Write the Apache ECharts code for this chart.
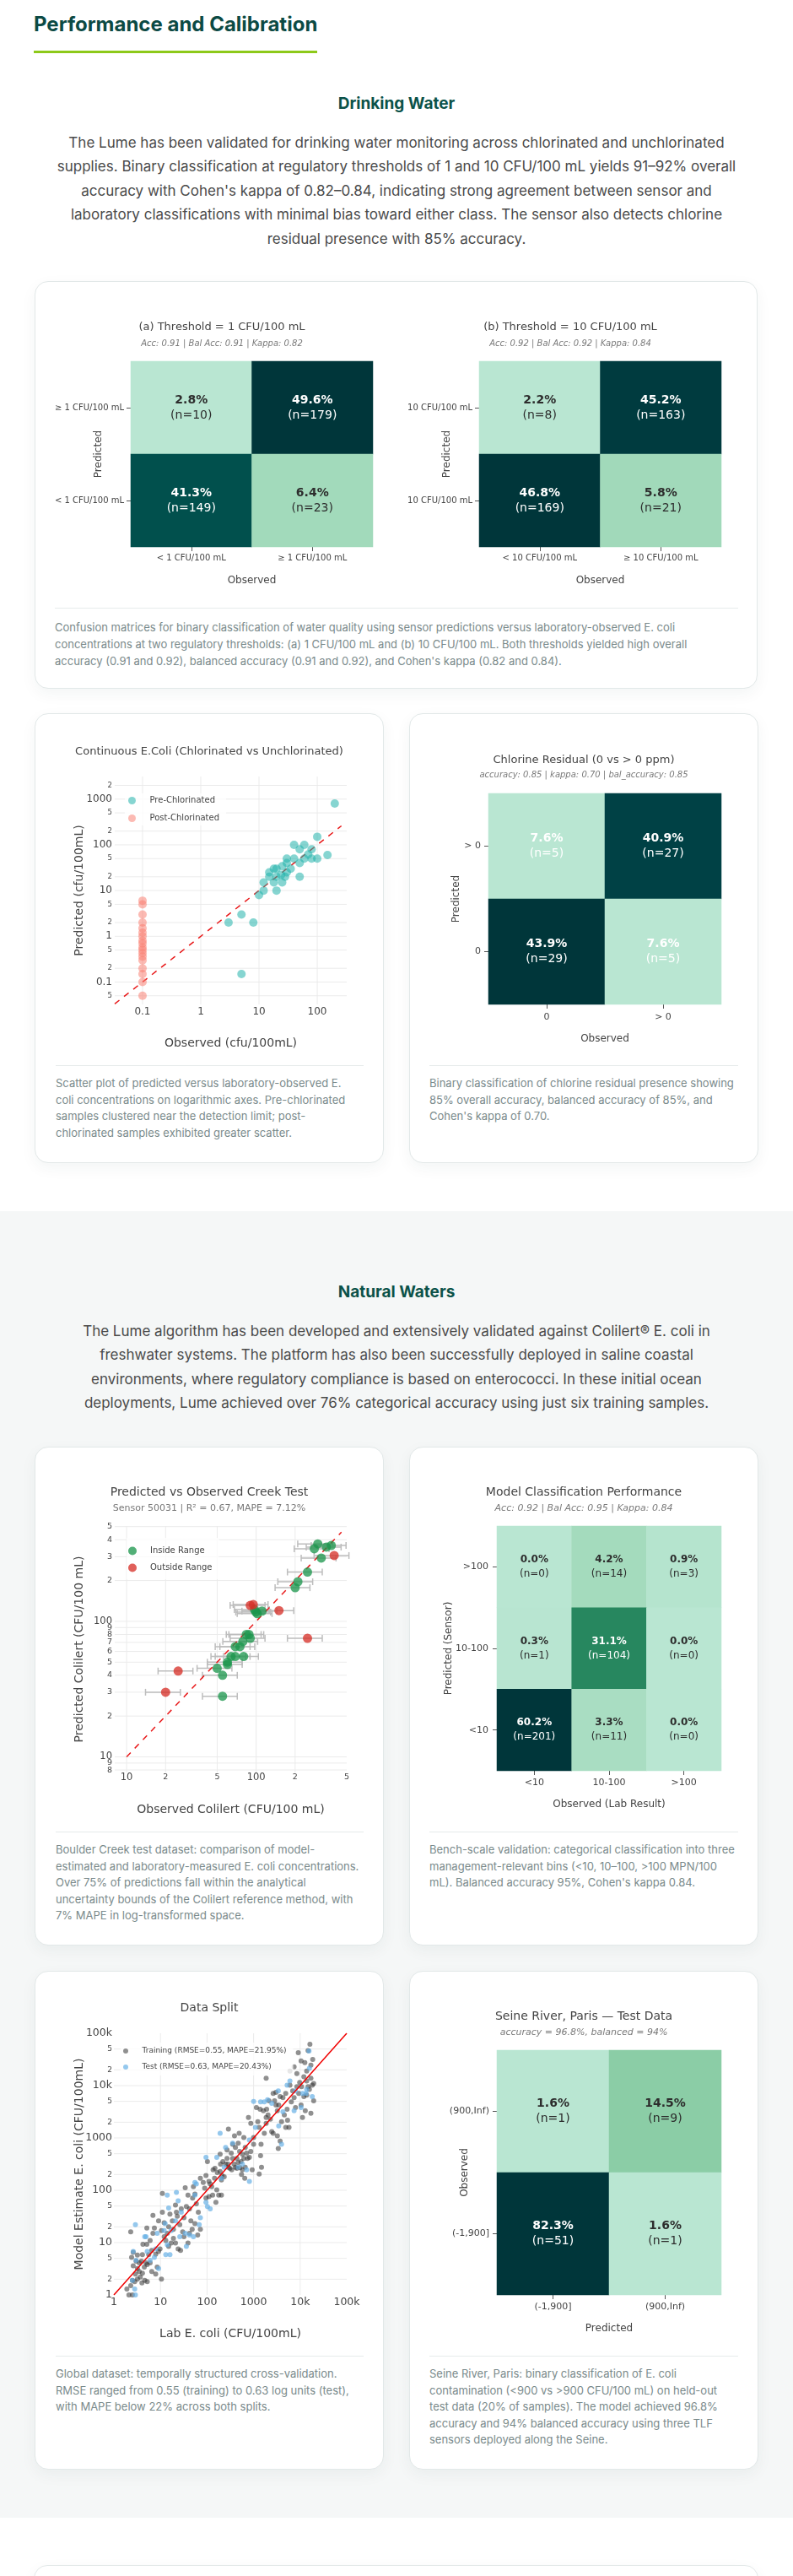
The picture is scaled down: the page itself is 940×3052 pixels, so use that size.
<!DOCTYPE html>
<html><head><meta charset="utf-8">
<script src="https://cdn.jsdelivr.net/npm/echarts@6/dist/echarts.min.js"></script>
<style>
html,body{margin:0;padding:0;background:#fff;}
#page{position:relative;width:940px;height:3052px;overflow:hidden;font-family:Inter,"Noto Sans",sans-serif;}
.abs{position:absolute;}
.h1{left:40px;top:14px;font-size:24px;font-weight:700;line-height:30px;color:#0c4a44;white-space:nowrap;}
.bar{left:40px;top:60px;width:336px;height:3px;background:#8dc919;}
.h3{left:0;width:940px;text-align:center;font-size:19px;font-weight:700;line-height:24px;color:#0b5249;}
.para{left:0;width:940px;text-align:center;font-size:17px;line-height:28.5px;color:#4a4a4a;white-space:nowrap;}
.card{background:#fff;border:1px solid #e2e8e8;border-radius:16px;box-shadow:0 6px 18px rgba(20,50,50,0.05);box-sizing:border-box;}
.sep{height:1px;background:#e6ebeb;}
.cap{font-size:13px;line-height:19.5px;color:#7a8a8b;white-space:nowrap;}
.chart{position:absolute;}
</style></head><body><div id="page">
<div class="abs" style="left:0;top:1435px;width:940px;height:1548px;background:#f5f7f7"></div>

<div class="abs h1">Performance and Calibration</div>
<div class="abs bar"></div>
<div class="abs h3" style="top:111px">Drinking Water</div>
<div class="abs para" style="top:154.75px">The Lume has been validated for drinking water monitoring across chlorinated and unchlorinated<br>supplies. Binary classification at regulatory thresholds of 1 and 10 CFU/100 mL yields 91–92% overall<br>accuracy with Cohen's kappa of 0.82–0.84, indicating strong agreement between sensor and<br>laboratory classifications with minimal bias toward either class. The sensor also detects chlorine<br>residual presence with 85% accuracy.</div>

<div class="abs card" style="left:41px;top:333px;width:857px;height:483px"></div>
<div class="abs sep" style="left:65px;top:720px;width:810px"></div>
<div class="abs cap" style="left:65px;top:733px;line-height:20px">Confusion matrices for binary classification of water quality using sensor predictions versus laboratory-observed E. coli<br>concentrations at two regulatory thresholds: (a) 1 CFU/100 mL and (b) 10 CFU/100 mL. Both thresholds yielded high overall<br>accuracy (0.91 and 0.92), balanced accuracy (0.91 and 0.92), and Cohen's kappa (0.82 and 0.84).</div>

<div class="abs card" style="left:41px;top:845px;width:414px;height:533px"></div>
<div class="abs card" style="left:485px;top:845px;width:414px;height:533px"></div>
<div class="abs sep" style="left:66px;top:1262px;width:365px"></div>
<div class="abs sep" style="left:509px;top:1262px;width:366px"></div>
<div class="abs cap" style="left:66px;top:1274px">Scatter plot of predicted versus laboratory-observed E.<br>coli concentrations on logarithmic axes. Pre-chlorinated<br>samples clustered near the detection limit; post-<br>chlorinated samples exhibited greater scatter.</div>
<div class="abs cap" style="left:509px;top:1274px">Binary classification of chlorine residual presence showing<br>85% overall accuracy, balanced accuracy of 85%, and<br>Cohen's kappa of 0.70.</div>

<div class="abs h3" style="top:1519px">Natural Waters</div>
<div class="abs para" style="top:1562.75px">The Lume algorithm has been developed and extensively validated against Colilert® E. coli in<br>freshwater systems. The platform has also been successfully deployed in saline coastal<br>environments, where regulatory compliance is based on enterococci. In these initial ocean<br>deployments, Lume achieved over 76% categorical accuracy using just six training samples.</div>

<div class="abs card" style="left:41px;top:1714px;width:414px;height:591px"></div>
<div class="abs card" style="left:485px;top:1714px;width:414px;height:591px"></div>
<div class="abs sep" style="left:66px;top:2170px;width:365px"></div>
<div class="abs sep" style="left:509px;top:2170px;width:366px"></div>
<div class="abs cap" style="left:66px;top:2182px">Boulder Creek test dataset: comparison of model-<br>estimated and laboratory-measured E. coli concentrations.<br>Over 75% of predictions fall within the analytical<br>uncertainty bounds of the Colilert reference method, with<br>7% MAPE in log-transformed space.</div>
<div class="abs cap" style="left:509px;top:2182px">Bench-scale validation: categorical classification into three<br>management-relevant bins (&lt;10, 10–100, &gt;100 MPN/100<br>mL). Balanced accuracy 95%, Cohen's kappa 0.84.</div>

<div class="abs card" style="left:41px;top:2335px;width:414px;height:591px"></div>
<div class="abs card" style="left:485px;top:2335px;width:414px;height:591px"></div>
<div class="abs sep" style="left:66px;top:2791px;width:365px"></div>
<div class="abs sep" style="left:509px;top:2791px;width:366px"></div>
<div class="abs cap" style="left:66px;top:2803px">Global dataset: temporally structured cross-validation.<br>RMSE ranged from 0.55 (training) to 0.63 log units (test),<br>with MAPE below 22% across both splits.</div>
<div class="abs cap" style="left:509px;top:2803px">Seine River, Paris: binary classification of E. coli<br>contamination (&lt;900 vs &gt;900 CFU/100 mL) on held-out<br>test data (20% of samples). The model achieved 96.8%<br>accuracy and 94% balanced accuracy using three TLF<br>sensors deployed along the Seine.</div>

<div class="abs card" style="left:40px;top:3039px;width:859px;height:80px"></div>

<div id="cmA" class="chart" style="left:42px;top:334px;width:442px;height:380px"></div>
<div id="cmB" class="chart" style="left:484px;top:334px;width:384px;height:380px"></div>
<div id="drink" class="chart" style="left:42px;top:846px;width:412px;height:414px"></div>
<div id="chlor" class="chart" style="left:486px;top:846px;width:412px;height:414px"></div>
<div id="creek" class="chart" style="left:42px;top:1715px;width:412px;height:454px"></div>
<div id="model" class="chart" style="left:486px;top:1715px;width:412px;height:454px"></div>
<div id="split" class="chart" style="left:42px;top:2336px;width:412px;height:454px"></div>
<div id="seine" class="chart" style="left:486px;top:2336px;width:412px;height:454px"></div>
</div>
<script>
// ================= DATA =================
// Confusion matrices (rows listed top -> bottom of the picture)
const cmXCatsA = ['< 1 CFU/100 mL', '≥ 1 CFU/100 mL'];
const cmYCatsA = ['< 1 CFU/100 mL', '≥ 1 CFU/100 mL'];
const cmPctA = [[2.8, 49.6], [41.3, 6.4]];
const cmNA = [[10, 179], [149, 23]];
const cmXCatsB = ['< 10 CFU/100 mL', '≥ 10 CFU/100 mL'];
const cmYCatsB = ['10 CFU/100 mL', '10 CFU/100 mL'];
const cmPctB = [[2.2, 45.2], [46.8, 5.8]];
const cmNB = [[8, 163], [169, 21]];
const chlorCats = ['0', '> 0'];
const chlorPct = [[7.6, 40.9], [43.9, 7.6]];
const chlorN = [[5, 27], [29, 5]];
const modelCats = ['<10', '10-100', '>100'];
const modelPct = [[0.0, 4.2, 0.9], [0.3, 31.1, 0.0], [60.2, 3.3, 0.0]];
const modelN = [[0, 14, 3], [1, 104, 0], [201, 11, 0]];
const seineCats = ['(-1,900]', '(900,Inf)'];
const seinePct = [[1.6, 14.5], [82.3, 1.6]];
const seineN = [[1, 9], [51, 1]];

// Continuous E. coli (observed, predicted)
const preChlor = [[200,800],[100,150],[150,60],[40,100],[60,100],[50,80],[80,80],[70,62],[60,50],[80,50],[100,50],[40,50],[30,50],[50,40],[30,40],[25,34],[35,30],[18,30],[20,30],[15,25],[15,20],[20,20],[24,22],[28,20],[30,25],[50,20],[12,15],[18,15],[25,15],[12,10],[20,10],[10,8],[3,2],[5,3],[8,2],[5,0.15]];
const postChlor = [[0.1,6],[0.1,5],[0.1,3],[0.1,2],[0.1,1.5],[0.1,1.2],[0.1,1],[0.1,0.8],[0.1,0.7],[0.1,0.57],[0.1,0.5],[0.1,0.43],[0.1,0.36],[0.1,0.3],[0.1,0.2],[0.1,0.15],[0.1,0.1],[0.1,0.05]];
const drinkRangeX = [0.0333, 321];
const drinkRangeY = [0.0324, 3120];
const drinkIdentity = [0.0333, 260];
const drinkTicksX = [0.1, 1, 10, 100];
const drinkLabelsX = ['0.1', '1', '10', '100'];
const drinkTicksY = [0.05, 0.1, 0.2, 0.5, 1, 2, 5, 10, 20, 50, 100, 200, 500, 1000, 2000];
const drinkLabelsY = ['5', '0.1', '2', '5', '1', '2', '5', '10', '2', '5', '100', '2', '5', '1000', '2'];
const drinkMajorY = [0.1, 1, 10, 100, 1000];

// Creek test (observed, predicted)
const creekInside = [[299,373],[281,343],[348,353],[380,363],[318,293],[249,231],[210,196],[200,177],[97,122],[102,114],[111,119],[99.5,117],[88,80],[84,80],[90,75],[79,71],[75,65],[69,65],[80,55],[69,55],[64,55],[60,50],[60,48],[50,45],[55,40],[55,28]];
const creekOutside = [[400,306],[95,133],[90,131],[150,120],[249,75],[25,43],[20,30]];
const colilertUncertainty = 0.30;
const creekRangeX = [8.1, 500];
const creekRangeY = [7.67, 505];
const creekIdentity = [10, 455];
const creekTicksX = [10, 20, 50, 100, 200, 500];
const creekLabelsX = ['10', '2', '5', '100', '2', '5'];
const creekTicksY = [8, 9, 10, 20, 30, 40, 50, 60, 70, 80, 90, 100, 200, 300, 400, 500];
const creekLabelsY = ['8', '9', '10', '2', '3', '4', '5', '6', '7', '8', '9', '100', '2', '3', '4', '5'];
const creekMajor = [10, 100];

// Data split (lab, model)
const splitTrain = [[2.3,16],[2.6,6.5],[2.4,5.2],[2.6,3.6],[3.0,4.4],[3.2,5.8],[3.5,2.8],[2.9,2.5],[2.5,1.9],[2.3,1.5],[2.1,1.0],[2.5,1.0],[2.8,1.8],[3.2,2.0],[3.7,2.2],[4.0,1.7],[4.6,1.9],[5.2,1.8],[4.1,2.6],[4.5,3.4],[4.9,4.1],[3.9,4.4],[4.2,9.3],[5.1,9.3],[5.1,19],[6.9,15],[6.0,11],[6.5,7.1],[6.9,33],[7.4,19],[7.9,6.0],[9.1,6.8],[8.5,3.4],[7.9,2.5],[10.5,2.0],[6.5,2.8],[5.6,5.9],[3.5,4.1],[4.1,5.9],[5.2,3.8],[9.8,7.6],[6.0,4.1],[1.9,1.3],[3.2,3.2],
[11,87],[11,38],[12,24],[12,13],[10.5,17],[14,15],[15,20],[16,35],[18,26],[21,52],[22,38],[19,12],[21,9.8],[24,7.6],[26,22],[27,7.1],[32,13],[32,30],[34,112],[39,81],[36,49],[42,44],[45,26],[48,18],[49,71],[51,117],[55,85],[59,55],[65,38],[72,170],[83,141],[89,110],[95,191],[95,71],[110,76],[102,355],[110,148],[117,132],[126,117],[145,170],[148,263],[162,102],[178,81],[204,81],[155,59],[17,9.8],[15,8.5],[19,18],[23,32],[28,44],[30,16],[39,9.8],[42,15],[55,23],[72,18],[63,14],[132,81],[9.1,26],[13,11],
[166,219],[191,229],[204,158],[234,182],[251,316],[219,355],[269,407],[288,275],[309,263],[331,513],[355,407],[380,316],[407,661],[437,407],[468,794],[490,1230],[501,550],[537,355],[575,490],[617,407],[661,661],[708,513],[741,407],[813,427],[933,245],[1000,759],[389,1096],[468,339],[513,269],[575,245],[550,200],[646,170],[288,1480],[191,490],[355,759],[617,1020],[437,263],[339,245],[282,316],[195,316],[209,191],[135,245],[871,550],[269,589],[407,275],[661,275],
[776,2455],[871,1905],[1000,1023],[1148,3800],[1230,2040],[1318,1585],[1380,3550],[1413,457],[1445,759],[1622,3311],[1698,1230],[1862,1905],[1905,3550],[2042,2754],[2138,5129],[2291,2291],[2455,1318],[2630,7079],[2818,5129],[3020,7413],[3236,3311],[3467,4266],[3715,6166],[3981,2040],[4266,5888],[4571,2754],[4898,7079],[5248,3550],[5370,2188],[5754,1585],[6026,10200],[6457,4898],[6918,7943],[7413,5888],[7943,3800],[8511,9550],[9333,7079],[9772,11480],[10470,4266],[11220,2455],[12020,6166],[12880,3311],[3388,631],[3715,871],[2630,1230],[3236,1096],[4898,1585],[1318,204],[1479,275],[1862,2455],[3020,4266],
[13800,12300],[14800,9550],[16200,61700],[17000,13800],[18200,10200],[18600,31600],[19500,5129],[19500,11000],[17000,2950],[13800,19000],[15800,8500],[17000,24500],[12000,14800],[14800,46800],[10700,9550],[8500,17000],[13800,6600],
[1862,13800],[6026,19000],[7413,22900],[10470,29500],[12600,27500],[9120,42700]];
const splitTest = [[2.9,22],[3.0,4.6],[2.6,6.8],[2.5,1.9],[2.8,1.3],[4.6,13],[4.9,13],[5.2,6.8],[6.0,4.6],[7.4,5.2],[7.9,7.6],[9.1,3.2],[12,17],[12.6,23],[14,81],[15,46],[16,5.9],[13,5.9],[14,9.1],[17,17],[21,26],[22,91],[24,63],[26,13],[28,38],[34,15],[36,8.5],[42,14],[51,13],[55,141],[55,81],[59,132],[72,30],[68,22],[95,59],[102,49],[95,427],[117,44],[162,427],[191,1230],[204,170],[234,275],[251,661],[355,794],[468,275],[575,316],[708,245],[813,148],[813,912],[1000,5000],[1096,1585],[1413,4900],[1698,4900],[2000,5370],[2455,4570],[3388,7943],[3467,1700],[3981,759],[4266,3162],[5248,10200],[6026,12300],[7413,3311],[7943,7943],[10470,3800],[11220,7079],[13400,7079],[18200,6166],[13800,8500],[15500,45700],[15800,21400],[8.5,15],[2.9,1.0]];
const splitRange = [1, 100000];
const splitTicksX = [1, 10, 100, 1000, 10000, 100000];
const splitLabelsX = ['1', '10', '100', '1000', '10k', '100k'];
const splitTicksY = [1, 2, 5, 10, 20, 50, 100, 200, 500, 1000, 2000, 5000, 10000, 20000, 50000, 100000];
const splitLabelsY = ['1', '2', '5', '10', '2', '5', '100', '2', '5', '1000', '2', '5', '10k', '2', '5', '100k'];
const splitMajor = [1, 10, 100, 1000, 10000, 100000];

// ================= HELPERS =================
const FONT = '"DejaVu Sans", Verdana, sans-serif';
const TXT = '#444';
const GRIDC = '#ebebeb';
const HEAT_COLORS = ['#b9e6d2','#94d2ad','#72bf93','#4ba57a','#2a8a60','#11725a','#035d52','#00474a','#00363a'];

function titleOpt(text, sub, top, fs, lh, subFs, italic, gap, subColor) {
  const t = {text: text, left: 'center', top: top, padding: 0, itemGap: gap || 0,
    textStyle: {fontFamily: FONT, fontSize: fs, fontWeight: 'normal', color: TXT, lineHeight: lh}};
  if (sub) {
    t.subtext = sub;
    t.subtextStyle = {fontFamily: FONT, fontSize: subFs, fontStyle: italic ? 'italic' : 'normal', color: subColor || '#7a7a7a', lineHeight: subFs + 3};
  }
  return t;
}

function heatOption(c) {
  const rows = c.pct.length;
  const all = [].concat.apply([], c.pct);
  const mn = Math.min.apply(null, all), mx = Math.max.apply(null, all);
  const data = [];
  c.pct.forEach(function (row, r) {
    row.forEach(function (v, col) {
      const t = (v - mn) / (mx - mn);
      const white = c.allWhite || t > 0.4 ? 1 : 0;
      data.push([col, rows - 1 - r, v, c.n[r][col], white]);
    });
  });
  const lf = c.labelFs, llh = c.labelLh;
  const mk = function (w, col) { return {fontFamily: FONT, fontWeight: w, fontSize: lf, lineHeight: llh, color: col}; };
  return {
    animation: false,
    title: titleOpt(c.title, c.sub, c.titleTop, c.titleFs, c.titleLh, c.subFs, true, c.gap),
    grid: Object.assign({outerBoundsMode: 'none', containLabel: false}, c.grid),
    xAxis: {type: 'category', data: c.xCats, axisLine: {show: false},
      axisTick: {show: true, alignWithLabel: true, length: 5, lineStyle: {color: '#555'}},
      axisLabel: {fontFamily: FONT, fontSize: c.tickFs, color: TXT, margin: c.xMargin},
      splitLine: {show: false}, name: c.xName, nameLocation: 'middle', nameGap: c.xGap, nameMoveOverlap: false,
      nameTextStyle: {fontFamily: FONT, fontSize: 12, color: TXT}},
    yAxis: {type: 'category', data: c.yCats, axisLine: {show: false},
      axisTick: {show: true, alignWithLabel: true, length: 5, lineStyle: {color: '#555'}},
      axisLabel: {fontFamily: FONT, fontSize: c.tickFs, color: TXT, margin: c.yMargin},
      splitLine: {show: false}, name: c.yName, nameLocation: 'middle', nameGap: c.yGap, nameMoveOverlap: false,
      nameTextStyle: {fontFamily: FONT, fontSize: 12, color: TXT}},
    visualMap: {show: false, min: mn, max: mx, dimension: 2, inRange: {color: HEAT_COLORS}},
    series: [{type: 'heatmap', data: data, itemStyle: {borderWidth: 0},
      emphasis: {disabled: true},
      label: {show: true,
        formatter: function (p) {
          const w = p.value[4];
          return '{' + (w ? 'bw' : 'bd') + '|' + p.value[2].toFixed(1) + '%}\n{' + (w ? 'nw' : 'nd') + '|(n=' + p.value[3] + ')}';
        },
        rich: {bd: mk('bold', '#2d2d2d'), nd: mk('normal', '#2d2d2d'), bw: mk('bold', '#ffffff'), nw: mk('normal', '#ffffff')}}}]
  };
}

function tickSeries(axis, ticks, labels, majors, gridAll, cfg) {
  return {
    type: 'custom', coordinateSystem: 'cartesian2d', silent: true, z: 0, clip: false,
    data: ticks.map(function (v) { return axis === 'x' ? [v, cfg.yr[0]] : [cfg.xr[0], v]; }),
    renderItem: function (params, api) {
      const cs = params.coordSys, i = params.dataIndex, v = ticks[i];
      const major = majors.indexOf(v) >= 0;
      const fs = major ? cfg.majorFs : cfg.minorFs;
      const kids = [];
      const lineStyle = {stroke: GRIDC, lineWidth: 1};
      if (axis === 'x') {
        const x = api.coord([v, cfg.yr[0]])[0];
        if ((gridAll || major) && v > cfg.xr[0] && v < cfg.xr[1])
          kids.push({type: 'line', shape: {x1: x, y1: cs.y, x2: x, y2: cs.y + cs.height}, style: lineStyle});
        kids.push({type: 'text', x: x, y: cs.y + cs.height + cfg.xOff,
          style: {text: labels[i], textAlign: 'center', align: 'center', textVerticalAlign: 'middle', verticalAlign: 'middle',
            fontFamily: FONT, fontSize: fs, fill: TXT}});
      } else {
        const y = api.coord([cfg.xr[0], v])[1];
        if (v > cfg.yr[0] && v < cfg.yr[1])
          kids.push({type: 'line', shape: {x1: cs.x, y1: y, x2: cs.x + cs.width, y2: y}, style: lineStyle});
        kids.push({type: 'text', x: cs.x - cfg.yOff, y: y,
          style: {text: labels[i], textAlign: 'right', align: 'right', textVerticalAlign: 'middle', verticalAlign: 'middle',
            fontFamily: FONT, fontSize: fs, fill: TXT}});
      }
      return {type: 'group', children: kids};
    }
  };
}

function logAxis(range, name, gap) {
  return {type: 'log', logBase: 10, min: range[0], max: range[1],
    axisLine: {show: false}, axisTick: {show: false}, axisLabel: {show: false}, splitLine: {show: false},
    name: name, nameLocation: 'middle', nameGap: gap, nameMoveOverlap: false,
    nameTextStyle: {fontFamily: FONT, fontSize: 14, color: TXT}};
}

function legendOpt(names, left, top, itemW, itemH, gap, fs, pad) {
  return {show: true, orient: 'vertical', left: left, top: top, itemWidth: itemW, itemHeight: itemH, itemGap: gap,
    padding: pad, backgroundColor: 'rgba(255,255,255,0.78)', icon: 'circle', selectedMode: false,
    data: names, textStyle: {fontFamily: FONT, fontSize: fs, color: TXT, lineHeight: fs + 1}};
}

// ================= CHARTS =================
function mount(id, opt) {
  const ch = echarts.init(document.getElementById(id), null, {renderer: 'canvas'});
  ch.setOption(opt);
}

mount('cmA', heatOption({title: '(a) Threshold = 1 CFU/100 mL', sub: 'Acc: 0.91 | Bal Acc: 0.91 | Kappa: 0.82',
  titleTop: 46, titleFs: 13, titleLh: 16, subFs: 10, gap: 4.5,
  xCats: cmXCatsA, yCats: cmYCatsA, pct: cmPctA, n: cmNA,
  grid: {left: 113, top: 94, width: 287, height: 220}, tickFs: 10, xMargin: 8, yMargin: 8,
  xName: 'Observed', xGap: 34, yName: 'Predicted', yGap: 32, labelFs: 14, labelLh: 18}));

mount('cmB', heatOption({title: '(b) Threshold = 10 CFU/100 mL', sub: 'Acc: 0.92 | Bal Acc: 0.92 | Kappa: 0.84',
  titleTop: 46, titleFs: 13, titleLh: 16, subFs: 10, gap: 4.5,
  xCats: cmXCatsB, yCats: cmYCatsB, pct: cmPctB, n: cmNB,
  grid: {left: 84, top: 94, width: 287, height: 220}, tickFs: 10, xMargin: 8, yMargin: 8,
  xName: 'Observed', xGap: 34, yName: 'Predicted', yGap: 32, labelFs: 14, labelLh: 18}));

mount('chlor', heatOption({title: 'Chlorine Residual (0 vs > 0 ppm)', sub: 'accuracy: 0.85 | kappa: 0.70 | bal_accuracy: 0.85',
  titleTop: 47, titleFs: 13, titleLh: 16, subFs: 10, gap: 2.5,
  xCats: chlorCats, yCats: chlorCats, pct: chlorPct, n: chlorN, allWhite: true,
  grid: {left: 93, top: 94, width: 276, height: 250}, tickFs: 11, xMargin: 9.5, yMargin: 9,
  xName: 'Observed', xGap: 35, yName: 'Predicted', yGap: 32, labelFs: 14, labelLh: 18}));

mount('model', heatOption({title: 'Model Classification Performance', sub: 'Acc: 0.92 | Bal Acc: 0.95 | Kappa: 0.84',
  titleTop: 44.5, titleFs: 14, titleLh: 17, subFs: 11, gap: 3.5,
  xCats: modelCats, yCats: modelCats, pct: modelPct, n: modelN,
  grid: {left: 103, top: 93, width: 266, height: 290}, tickFs: 11, xMargin: 9, yMargin: 10,
  xName: 'Observed (Lab Result)', xGap: 34, yName: 'Predicted (Sensor)', yGap: 51, labelFs: 12, labelLh: 17}));

mount('seine', heatOption({title: 'Seine River, Paris — Test Data', sub: 'accuracy = 96.8%, balanced = 94%',
  titleTop: 44.5, titleFs: 14, titleLh: 17, subFs: 11, gap: 3.5,
  xCats: seineCats, yCats: seineCats, pct: seinePct, n: seineN,
  grid: {left: 103, top: 93, width: 266, height: 290}, tickFs: 11, xMargin: 9, yMargin: 9,
  xName: 'Predicted', xGap: 34, yName: 'Observed', yGap: 32, labelFs: 14, labelLh: 18}));

// Continuous E. coli scatter
(function () {
  const cfg = {xr: drinkRangeX, yr: drinkRangeY, majorFs: 12, minorFs: 8.5, xOff: 9, yOff: 3};
  mount('drink', {
    animation: false,
    title: titleOpt('Continuous E.Coli (Chlorinated vs Unchlorinated)', null, 37, 13, 16),
    grid: {left: 94, top: 74, width: 275, height: 270, outerBoundsMode: 'none', containLabel: false},
    xAxis: logAxis(drinkRangeX, 'Observed (cfu/100mL)', 39),
    yAxis: logAxis(drinkRangeY, 'Predicted (cfu/100mL)', 35),
    legend: legendOpt(['Pre-Chlorinated', 'Post-Chlorinated'], 106, 94, 32, 9, 10, 10, [3, 8, 3, 4]),
    series: [
      tickSeries('x', drinkTicksX, drinkLabelsX, drinkTicksX, true, cfg),
      tickSeries('y', drinkTicksY, drinkLabelsY, drinkMajorY, true, cfg),
      {type: 'line', data: [[drinkIdentity[0], drinkIdentity[0]], [drinkIdentity[1], drinkIdentity[1]]], symbol: 'none', silent: true,
        lineStyle: {color: '#e8191a', width: 1.5, type: [7, 7]}, z: 1},
      {type: 'scatter', name: 'Pre-Chlorinated', data: preChlor, symbolSize: 10, itemStyle: {color: 'rgba(32,178,170,0.68)'}, z: 3},
      {type: 'scatter', name: 'Post-Chlorinated', data: postChlor, symbolSize: 10, itemStyle: {color: 'rgba(250,128,114,0.68)'}, z: 3}
    ]
  });
})();

// Creek scatter
(function () {
  const cfg = {xr: creekRangeX, yr: creekRangeY, majorFs: 11.5, minorFs: 9.5, xOff: 6, yOff: 3};
  const errData = creekInside.concat(creekOutside);
  mount('creek', {
    animation: false,
    title: titleOpt('Predicted vs Observed Creek Test', 'Sensor 50031 | R² = 0.67, MAPE = 7.12%', 44.5, 14, 17, 11, false, 3.5, '#777'),
    grid: {left: 94, top: 93, width: 275, height: 292, outerBoundsMode: 'none', containLabel: false},
    xAxis: logAxis(creekRangeX, 'Observed Colilert (CFU/100 mL)', 37),
    yAxis: logAxis(creekRangeY, 'Predicted Colilert (CFU/100 mL)', 35),
    legend: legendOpt(['Inside Range', 'Outside Range'], 108, 107, 32, 10, 9, 10, [10, 8, 8, 2]),
    series: [
      tickSeries('x', creekTicksX, creekLabelsX, creekMajor, true, cfg),
      tickSeries('y', creekTicksY, creekLabelsY, creekMajor, true, cfg),
      {type: 'line', data: [[creekIdentity[0], creekIdentity[0]], [creekIdentity[1], creekIdentity[1]]], symbol: 'none', silent: true,
        lineStyle: {color: '#e8191a', width: 1.5, type: [7, 7]}, z: 1},
      {type: 'custom', silent: true, z: 1, data: errData,
        renderItem: function (params, api) {
          const x = api.value(0), y = api.value(1);
          const lo = api.coord([x * (1 - colilertUncertainty), y]);
          const hi = api.coord([x * (1 + colilertUncertainty), y]);
          const st = {stroke: '#bdbdbd', lineWidth: 1.5};
          return {type: 'group', children: [
            {type: 'line', shape: {x1: lo[0], y1: lo[1], x2: hi[0], y2: hi[1]}, style: st},
            {type: 'line', shape: {x1: lo[0], y1: lo[1] - 4, x2: lo[0], y2: lo[1] + 4}, style: st},
            {type: 'line', shape: {x1: hi[0], y1: hi[1] - 4, x2: hi[0], y2: hi[1] + 4}, style: st}
          ]};
        }},
      {type: 'scatter', name: 'Inside Range', data: creekInside, symbolSize: 11, itemStyle: {color: 'rgba(28,150,76,0.95)'}, z: 3},
      {type: 'scatter', name: 'Outside Range', data: creekOutside, symbolSize: 11, itemStyle: {color: 'rgba(214,46,38,0.95)'}, z: 3}
    ]
  });
})();

// Data split scatter
(function () {
  const cfg = {xr: splitRange, yr: splitRange, majorFs: 12.5, minorFs: 9, xOff: 9, yOff: 2};
  mount('split', {
    animation: false,
    title: titleOpt('Data Split', null, 34.5, 14, 17),
    grid: {left: 93, top: 73, width: 276, height: 310, outerBoundsMode: 'none', containLabel: false},
    xAxis: logAxis(splitRange, 'Lab E. coli (CFU/100mL)', 39),
    yAxis: logAxis(splitRange, 'Model Estimate E. coli (CFU/100mL)', 34),
    legend: legendOpt(['Training (RMSE=0.55, MAPE=21.95%)', 'Test (RMSE=0.63, MAPE=20.43%)'], 101, 84, 29, 6, 9, 9, [5, 8, 5, 3]),
    series: [
      tickSeries('x', splitTicksX, splitLabelsX, splitMajor, false, cfg),
      tickSeries('y', splitTicksY, splitLabelsY, splitMajor, true, cfg),
      {type: 'scatter', name: 'Training (RMSE=0.55, MAPE=21.95%)', data: splitTrain, symbolSize: 6, itemStyle: {color: 'rgba(50,50,50,0.68)'}, z: 2},
      {type: 'scatter', name: 'Test (RMSE=0.63, MAPE=20.43%)', data: splitTest, symbolSize: 6, itemStyle: {color: 'rgba(100,175,228,0.85)'}, z: 2},
      {type: 'line', data: [[splitRange[0], splitRange[0]], [splitRange[1], splitRange[1]]], symbol: 'none', silent: true,
        lineStyle: {color: '#f00000', width: 1.5}, z: 3}
    ]
  });
})();
</script>
</body></html>
